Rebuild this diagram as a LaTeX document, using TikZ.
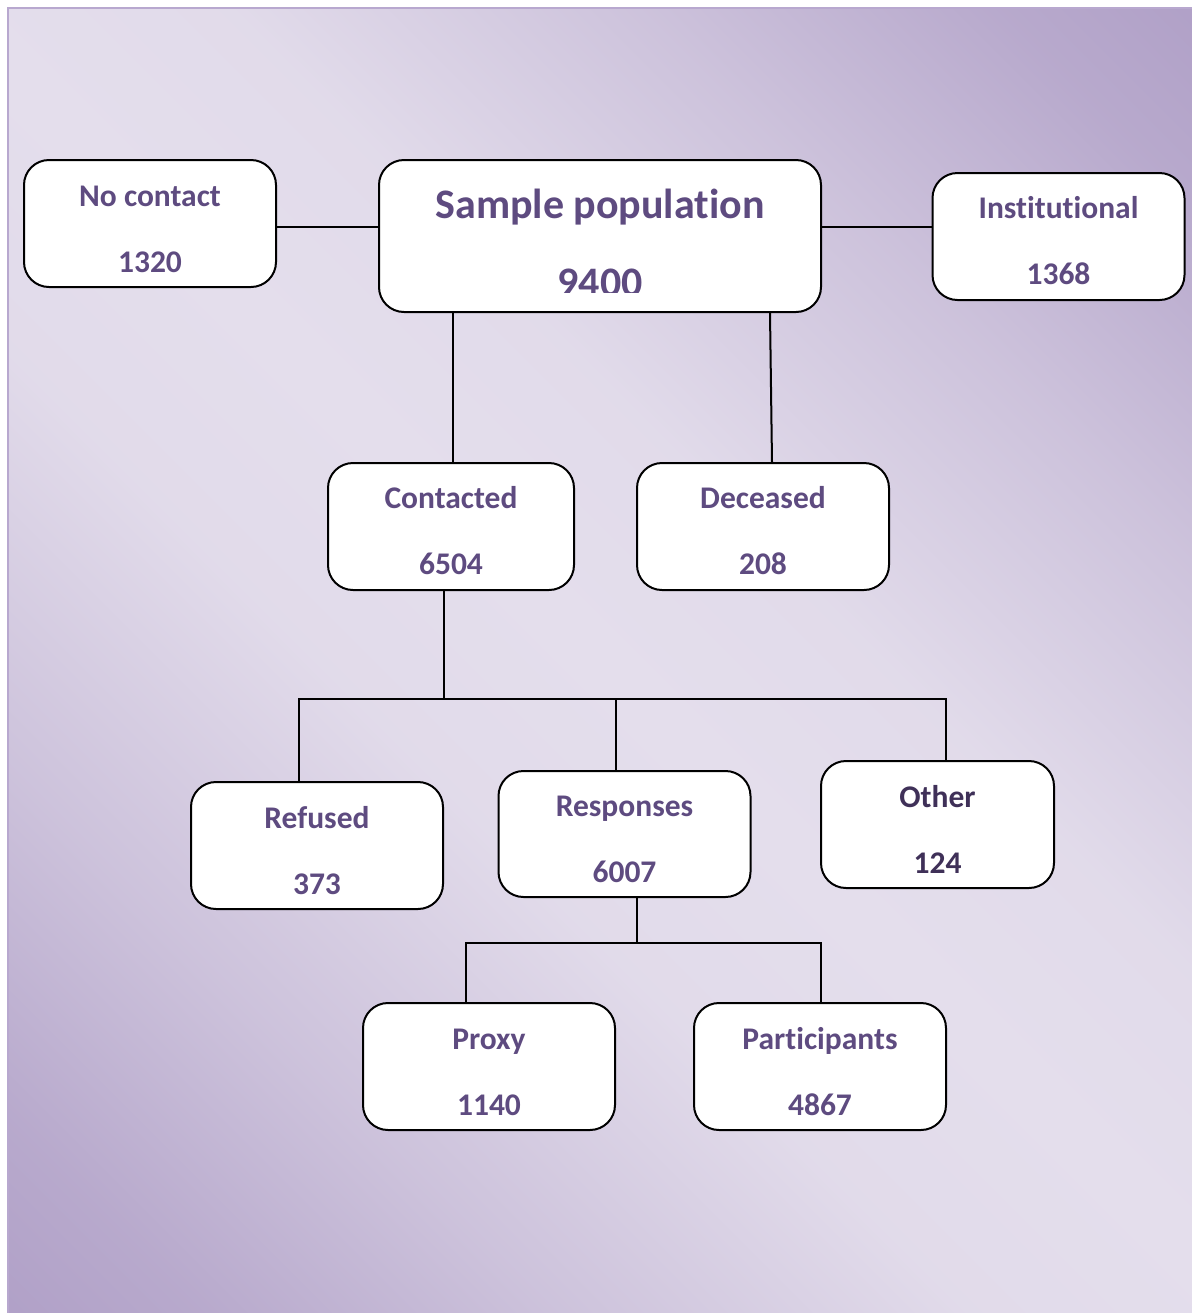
\documentclass[tikz,border=0pt]{standalone}
\usepackage{fontspec}
\setmainfont{Carlito}[Ligatures=NoCommon]
\usepackage{xcolor}
\usetikzlibrary{positioning,calc}

\definecolor{labelpurple}{HTML}{5E4B80}
\definecolor{otherpurple}{HTML}{3F3058}
\definecolor{bgdark}{HTML}{B0A0C7}
\definecolor{bglight}{HTML}{E4DEEC}
\definecolor{framepurple}{HTML}{B8A8CF}
\colorlet{bgtint}{bgdark!5!bglight}
\colorlet{bgmid}{bgdark!45!bglight}
\colorlet{bgdeep}{bgdark!85!bglight}

% dark corners, light diagonal band
\pgfdeclareverticalshading{panel}{100bp}{color(0bp)=(bgdark); color(14bp)=(bgdark);
  color(20bp)=(bgdeep); color(30bp)=(bgmid); color(42bp)=(bgtint);
  color(50bp)=(bglight); color(58bp)=(bgtint); color(70bp)=(bgmid);
  color(80bp)=(bgdeep); color(86bp)=(bgdark); color(100bp)=(bgdark)}

\tikzset{
  stagebox/.style={draw=black, line width=1pt, fill=white, rounded corners=12.5pt,
    minimum width=126pt, minimum height=63.5pt, align=center, text=labelpurple,
    font=\bfseries\fontsize{15.75}{33}\selectfont},
  mainbox/.style={stagebox, minimum width=221pt, minimum height=76pt,
    font=\bfseries\fontsize{21}{39}\selectfont},
  link/.style={draw=black, line width=1pt}
}
\newcommand{\tally}[2]{\rule{0pt}{15.6pt}#1\\#2}

\begin{document}
\begin{tikzpicture}[x=0.5pt,y=-0.5pt]
    \useasboundingbox (0,0) rectangle (1192,1313);
    % Background panel
    \shade[shading=panel, shading angle=-45] (8,8) rectangle (1192,1313);
    \draw[framepurple, line width=1pt] (8,1313) -- (8,8) -- (1192,8);

    % Top row
    \node[mainbox] (sample) at (600,236) {\rule{0pt}{22pt}Sample population\\9400};
    \fill[white] (540,293) rectangle (660,306);
    \node[stagebox] (nocontact) at (150,223.5) {\tally{No contact}{1320}};
    \node[stagebox] (institutional) at (1058.5,236.5) {\tally{Institutional}{1368}};

    % Second row
    \node[stagebox, minimum width=123pt] (contacted) at (451,526.5) {\tally{Contacted}{6504}};
    \node[stagebox] (deceased) at (763,526.5) {\tally{Deceased}{208}};

    % Third row
    \node[stagebox] (refused) at (317,845.5) {\tally{Refused}{373}};
    \node[stagebox, minimum height=63pt] (responses) at (624.5,834) {\tally{Responses}{6007}};
    \node[stagebox, minimum width=116.5pt, text=otherpurple] (other) at (937.5,824.5) {\tally{Other}{124}};

    % Bottom row
    \node[stagebox] (proxy) at (489,1066.5) {\tally{Proxy}{1140}};
    \node[stagebox] (participants) at (820,1066.5) {\tally{Participants}{4867}};

    % Connectors
    \coordinate (row1) at (0,227);
    \coordinate (split1) at (444,699);
    \coordinate (split2) at (637,943);
    \coordinate (refusedtap) at (299,699);
    \coordinate (responsestap) at (616,699);
    \coordinate (othertap) at (946,699);
    \coordinate (proxytap) at (466,943);
    \coordinate (participantstap) at (821,943);

    \draw[link] (nocontact.east |- row1) -- (sample.west |- row1);
    \draw[link] (sample.east |- row1) -- (institutional.west |- row1);
    \draw[link] (sample.south -| 453,0) -- (contacted.north -| 453,0);
    \draw[link] (sample.south -| 770,0) -- (deceased.north -| 772,0);

    \draw[link] (split1 |- contacted.south) -- (split1);
    \draw[link] (refusedtap |- refused.north) -- (refusedtap) -- (othertap) -- (othertap |- other.north);
    \draw[link] (responsestap) -- (responsestap |- responses.north);

    \draw[link] (split2 |- responses.south) -- (split2);
    \draw[link] (proxytap |- proxy.north) -- (proxytap) -- (participantstap) -- (participantstap |- participants.north);
\end{tikzpicture}
\end{document}
